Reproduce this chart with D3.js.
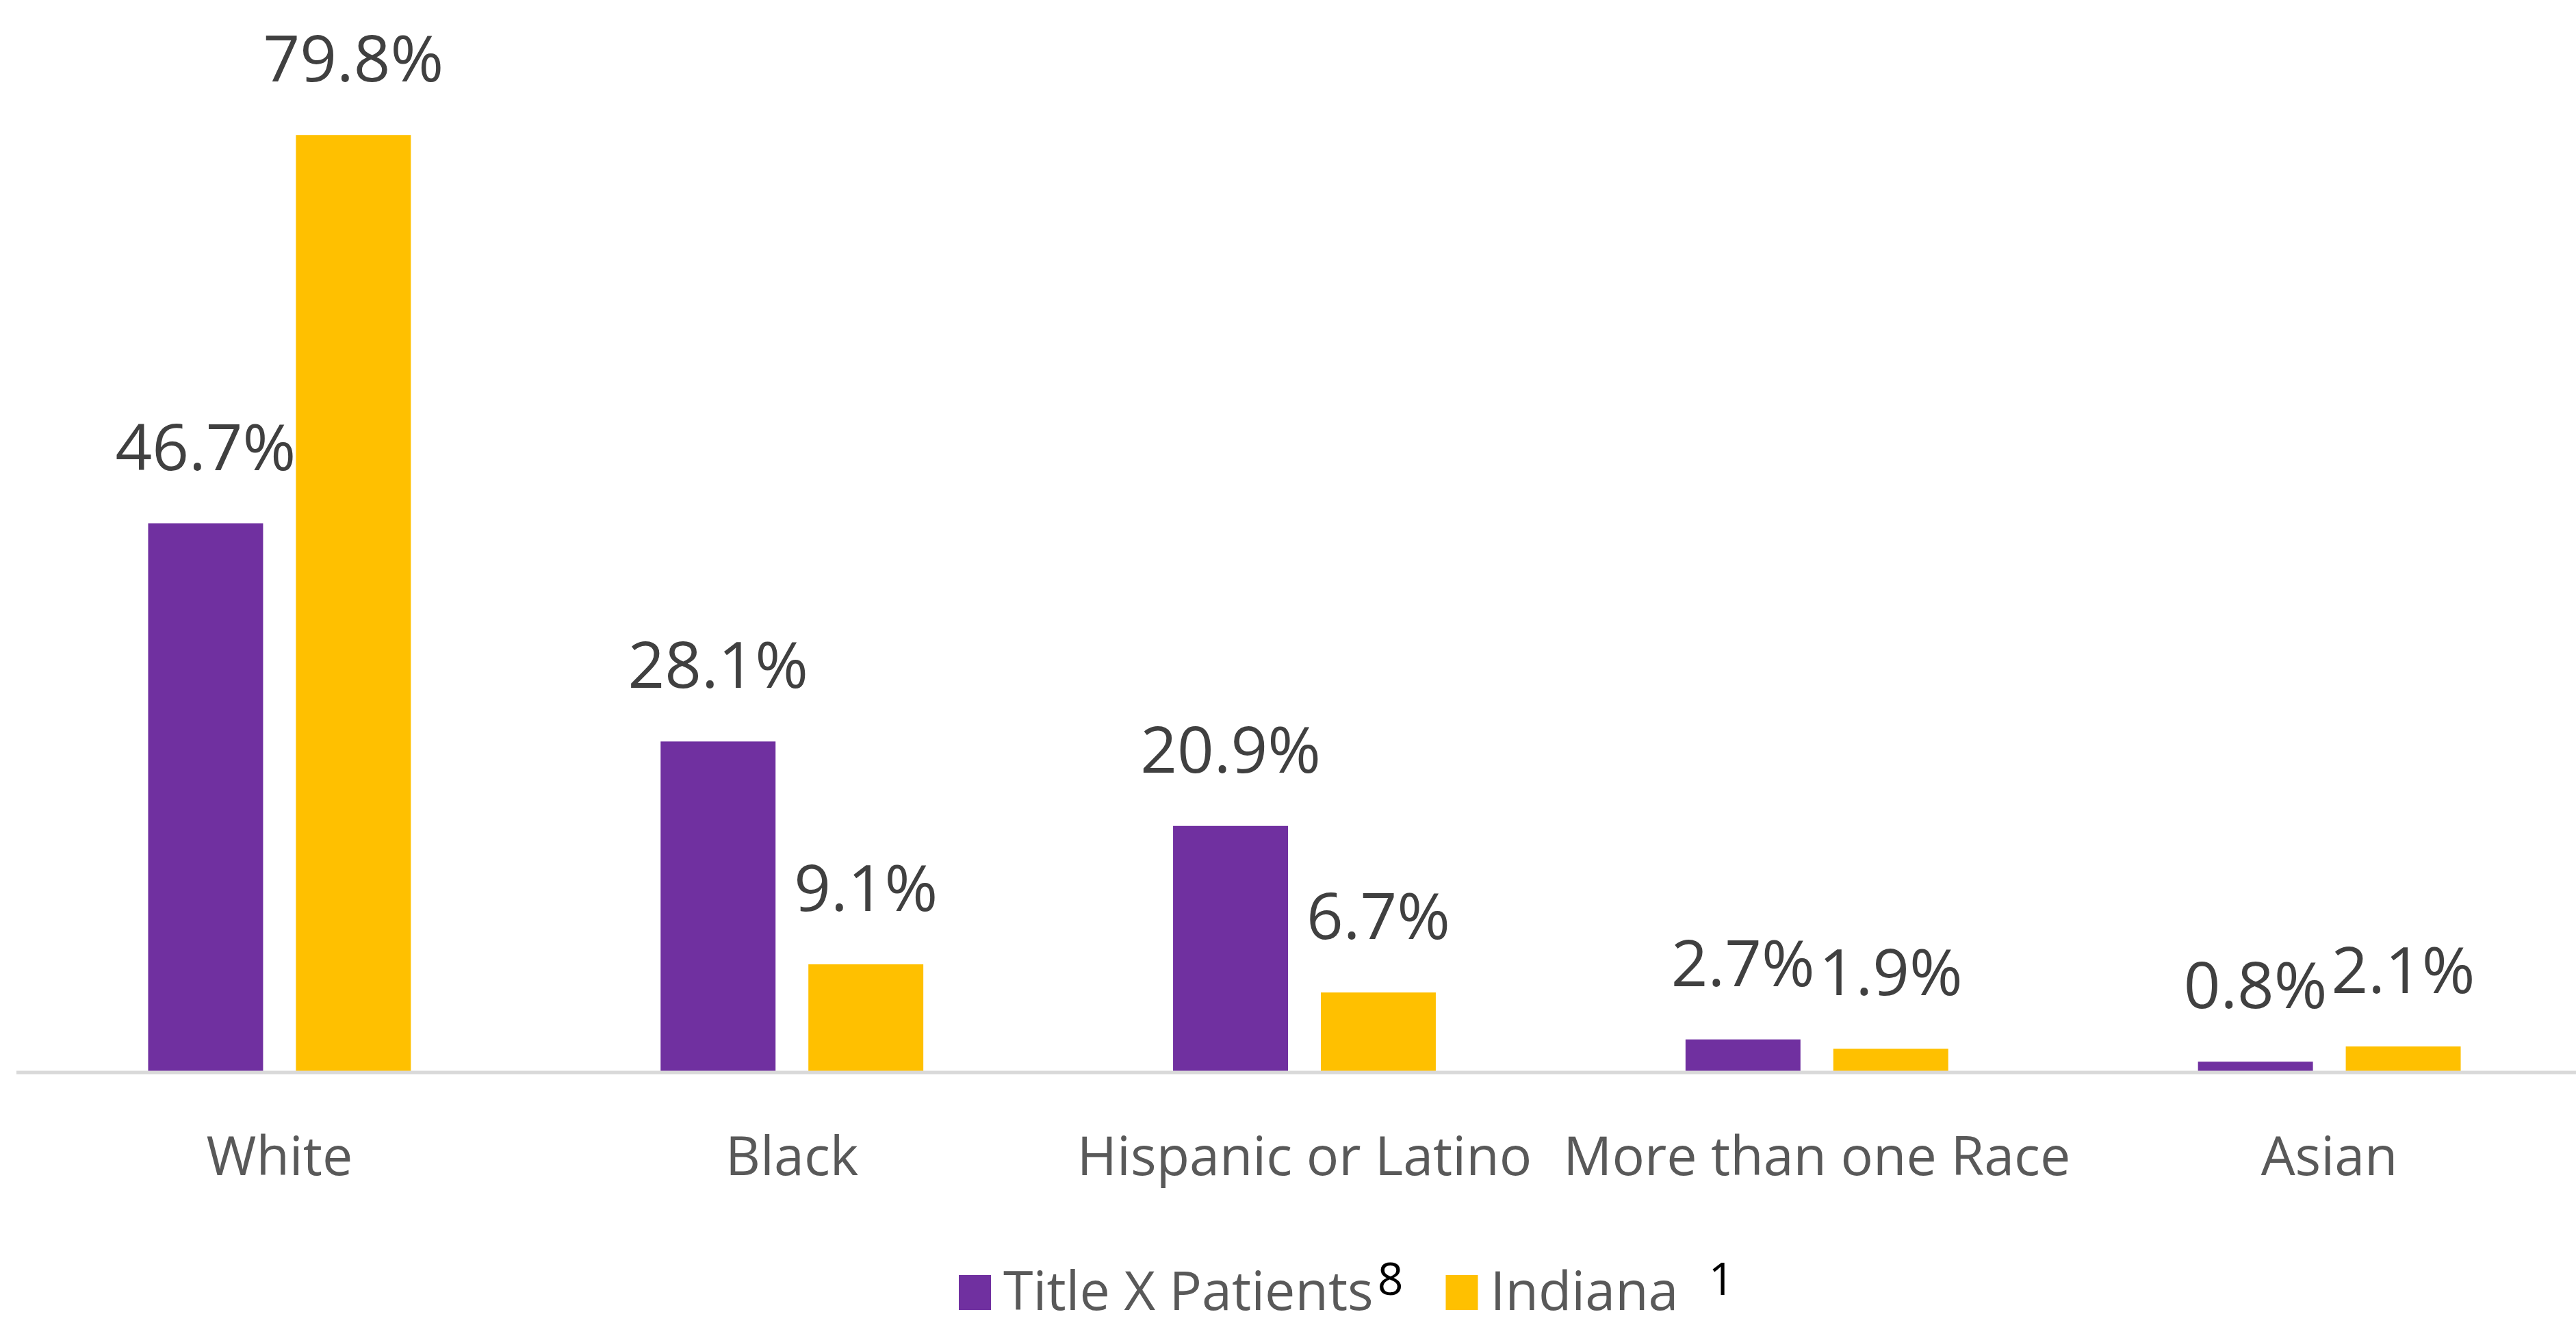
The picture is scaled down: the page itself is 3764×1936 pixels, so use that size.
<!DOCTYPE html>
<html>
<head>
<meta charset="utf-8">
<script src="https://cdn.jsdelivr.net/npm/d3@7"></script>
<style>
  html, body { margin: 0; padding: 0; background: #fff; }
  svg { display: block; }
  text { font-family: "Open Sans", "Noto Sans", sans-serif; }
</style>
</head>
<body>
<svg id="chart" width="3764" height="1936"></svg>
<script>
// Race / ethnicity share: Title X patients vs. Indiana population
const categories = ["White", "Black", "Hispanic or Latino", "More than one Race", "Asian"];
const seriesNames = ["Title X Patients", "Indiana"];
const seriesNotes = ["8", "1"];
const titleXValues = [46.7, 28.1, 20.9, 2.7, 0.8];
const indianaValues = [79.8, 9.1, 6.7, 1.9, 2.1];
const seriesColors = ["#7030A0", "#FFC000"];

const seriesValues = [titleXValues, indianaValues];
const rows = categories.map((c, i) => ({
  category: c,
  values: seriesNames.map((s, j) => ({ series: s, value: seriesValues[j][i] }))
}));

const svg = d3.select("#chart");
const W = 3764, H = 1936;
const baseY = 1565;

const x0 = d3.scaleBand().domain(categories).range([34, 3778]);
const x1 = d3.scaleBand().domain(seriesNames)
  .range([0, x0.bandwidth()])
  .paddingInner(0.2222)
  .paddingOuter(0.845);
const y = d3.scaleLinear().domain([0, 80]).range([baseY, baseY - 80 * 17.14]);
const color = d3.scaleOrdinal().domain(seriesNames).range(seriesColors);

// category groups with bars
const groups = svg.append("g").selectAll("g")
  .data(rows)
  .join("g")
  .attr("transform", d => `translate(${x0(d.category)},0)`);

groups.selectAll("rect")
  .data(d => d.values)
  .join("rect")
  .attr("x", d => x1(d.series))
  .attr("y", d => y(d.value))
  .attr("width", x1.bandwidth())
  .attr("height", d => y(0) - y(d.value))
  .attr("fill", d => color(d.series));

// value labels above the bars
groups.selectAll("text.value")
  .data(d => d.values)
  .join("text")
  .attr("class", "value")
  .attr("x", d => x1(d.series) + x1.bandwidth() / 2)
  .attr("y", d => y(d.value) - 78)
  .attr("text-anchor", "middle")
  .attr("font-size", 94)
  .attr("fill", "#404040")
  .text(d => d.value.toFixed(1) + "%");

// category axis
const axis = svg.append("g")
  .attr("transform", `translate(0,${baseY})`)
  .call(d3.axisBottom(x0).tickSize(0).tickPadding(0));
axis.select(".domain").remove();
axis.selectAll(".tick text")
  .attr("y", 152)
  .attr("dy", null)
  .attr("font-size", 79)
  .attr("font-family", "\"Open Sans\", sans-serif")
  .attr("fill", "#595959");
svg.append("line")
  .attr("x1", 24).attr("x2", W)
  .attr("y1", baseY + 2).attr("y2", baseY + 2)
  .attr("stroke", "#D9D9D9")
  .attr("stroke-width", 5);

// legend with source-note superscripts
const legend = svg.append("g");
const legendBase = 1914;
let lx = 1401;
seriesNames.forEach((s, i) => {
  legend.append("rect")
    .attr("x", lx).attr("y", legendBase - 51)
    .attr("width", 47).attr("height", 51)
    .attr("fill", color(s));
  lx += 65;
  const t = legend.append("text")
    .attr("x", lx).attr("y", legendBase)
    .attr("font-size", 79)
    .attr("fill", "#595959")
    .text(s);
  lx += t.node().getComputedTextLength() + (i === 0 ? 6 : 44);
  const n = legend.append("text")
    .attr("x", lx).attr("y", legendBase - 22)
    .attr("font-size", 66)
    .attr("font-family", "\"Liberation Sans Narrow\", \"Liberation Sans\", Arial, sans-serif")
    .attr("fill", "#000")
    .text(seriesNotes[i]);
  lx += n.node().getComputedTextLength() + 62;
});
</script>
</body>
</html>
